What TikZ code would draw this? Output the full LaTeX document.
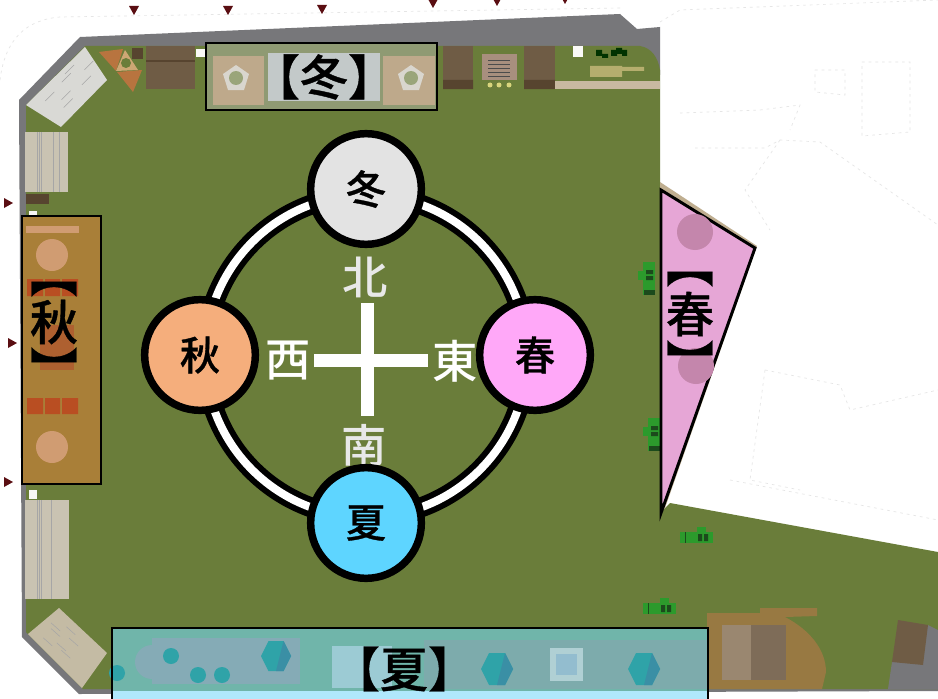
\documentclass[tikz,border=0pt]{standalone}
\usepackage{fontspec}
\usetikzlibrary{calc}
\newfontfamily\cjk{Noto Sans CJK JP Medium}
\newfontfamily\cjkm[FakeBold=0.8]{Noto Sans CJK JP Medium}
\definecolor{lawn}{HTML}{6A7D3A}
\definecolor{wall}{HTML}{77777A}
\definecolor{plank}{HTML}{C9C3B2}
\definecolor{plankgrey}{HTML}{D9D9D5}
\definecolor{plankbrown}{HTML}{C4BBA4}
\definecolor{markred}{HTML}{5A0E12}
\definecolor{bench}{HTML}{6F5C45}
\definecolor{mach}{HTML}{2C9A2C}
\definecolor{machdark}{HTML}{1C4A1C}
\definecolor{tealhex}{HTML}{2FA3A8}
\definecolor{tealdark}{HTML}{3A8FA5}
\definecolor{tealpanel}{HTML}{70B5AA}
\definecolor{tealinner}{HTML}{85ABB6}
\definecolor{tealright}{HTML}{7DABAC}
\definecolor{tealpale}{HTML}{9CCBD4}
\definecolor{tealsqout}{HTML}{B0D0D4}
\definecolor{tealsqin}{HTML}{93BDCF}
\definecolor{skystrip}{HTML}{B0E8FC}
\definecolor{autpanel}{HTML}{A97F38}
\definecolor{autred}{HTML}{B94E22}
\definecolor{autblock}{HTML}{AE6030}
\definecolor{autpale}{HTML}{D09C72}
\definecolor{sprpanel}{HTML}{E6A6D6}
\definecolor{sprround}{HTML}{C486AC}
\definecolor{winpanel}{HTML}{8F9A73}
\definecolor{wintan}{HTML}{BEA98B}
\definecolor{wincentre}{HTML}{C3C9C9}
\definecolor{winpent}{HTML}{D9D6CE}
\definecolor{wingreen}{HTML}{9AA57A}
\definecolor{tricol}{HTML}{B8743F}
\definecolor{tritan}{HTML}{CDA774}
\definecolor{deckcol}{HTML}{987942}
\definecolor{gridA}{HTML}{9A8770}
\definecolor{gridB}{HTML}{7E6C58}
\definecolor{khakicol}{HTML}{B5AE6E}
\definecolor{darkbox}{HTML}{57442F}
\definecolor{noticecol}{HTML}{A88F7E}
\definecolor{edgetan}{HTML}{BFAE90}
\newcommand{\tractorH}[2]{%
  \begin{scope}[shift={(#1,#2)}]
    \fill[mach] (0,0) rectangle (33,11);
    \fill[mach] (17,-5) rectangle (26,0);
    \fill[machdark] (18,2) rectangle (22,9) (24,2) rectangle (28,9);
    \draw[machdark,line width=.6pt] (5,0) -- (5,11);
  \end{scope}}
\newcommand{\tractorV}[2]{%
  \begin{scope}[shift={(#1,#2)}]
    \fill[mach] (0,0) rectangle (12,33);
    \fill[mach] (-5,9) rectangle (0,18);
    \fill[machdark] (3,8) rectangle (10,12) (3,14) rectangle (10,18);
    \fill[machdark] (1,28) rectangle (12,33);
  \end{scope}}
\tikzset{
  x=0.75pt,y=-0.75pt,
  seasoncircle/.style={circle,draw=black,line width=5.6pt,minimum size=83pt,inner sep=0pt,font=\cjkm\fontsize{30}{30}\selectfont},
  compass/.style={inner sep=0pt,text=white,font=\cjk\fontsize{34}{34}\selectfont},
  banner/.style={inner sep=0pt,text=black,font=\cjkm\fontsize{36}{36}\selectfont},
  panelline/.style={draw=black,line width=2.2pt},
  faint/.style={draw=black!10,line width=.5pt,dash pattern=on 2pt off 3pt},
  grainline/.style={draw=black!35,line width=.4pt},
}
\begin{document}
\begin{tikzpicture}
\useasboundingbox (0,0) rectangle (938,699);
\fill[white] (0,0) rectangle (938,699);
% faint site outline
\draw[faint] (0,80) .. controls (5,40) and (25,20) .. (60,17) -- (620,8);
\draw[faint] (660,22) -- (680,10) -- (938,0);
\draw[faint] (815,70) -- (845,70) -- (845,95) -- (815,92) -- cycle;
\draw[faint] (862,62) -- (910,62) -- (910,132) -- (862,136) -- cycle;
\draw[faint] (680,113) -- (760,110) -- (800,105) -- (790,130);
\draw[faint] (695,148) -- (765,148) -- (780,140) -- (820,142) -- (938,225);
\draw[faint] (780,140) -- (745,190) -- (770,230);
\draw[faint] (765,370) -- (750,480) -- (800,490);
\draw[faint] (765,370) -- (840,385) -- (850,410) -- (938,390);
\draw[faint] (730,480) -- (938,520);
% walls and lawn
\fill[wall] (80,37) -- (620,14) -- (637,29) -- (660,27) -- (660,75) -- (640,60) -- (85,60) -- (26,110) -- (26,630) -- (83,688) -- (938,688) -- (938,691) -- (79,694) -- (22,637) -- (19,100) -- cycle;
\fill[lawn] (85,46) -- (640,46) .. controls (652,48) and (658,58) .. (660,70) -- (660,513) -- (670,503) -- (938,552) -- (938,689) -- (83,689) -- (26,632) -- (26,105) -- cycle;
\fill[edgetan] (660,182) -- (757,246) -- (665,508) -- (660,513) -- cycle;
% north side furnishings
\fill[plankgrey] (85,47) -- (107,80) -- (61,127) -- (26,105) -- cycle;
\foreach \a/\b in {.2/.3,.35/.6,.5/.25,.65/.7,.8/.45,.3/.8,.6/.15}{
  \draw[grainline] ($(26,105)!\a!(85,47)+(25*\b,25*\b)$) -- ++(9,-9);}
\fill[tricol] (99,52) -- (123,49) -- (116,71) -- cycle;
\fill[tricol] (117,72) -- (142,70) -- (133,92) -- cycle;
\fill[tritan] (125,50) -- (138,70) -- (116,71) -- cycle;
\fill[lawn] (126,63) circle (5);
\fill[darkbox] (132,48) rectangle (143,59);
\fill[bench] (146,46) rectangle (195,89);
\draw[darkbox,line width=.8pt] (146,61) -- (195,61);
\fill[white!90!plank] (196,49) rectangle (205,57);
\fill[bench] (443,46) rectangle (473,89);
\fill[bench] (524,46) rectangle (555,89);
\fill[darkbox] (443,80) rectangle (473,89) (524,80) rectangle (555,89);
\fill[noticecol] (482,54) rectangle (517,80);
\foreach \y in {60,64,68,72,76}{\draw[black!70,line width=.5pt] (488,\y) -- (510,\y);}
\fill[plank!70!yellow] (490,85) circle (2.5) (499,85) circle (2.5) (509,85) circle (2.5);
\fill[white!90!plank] (573,46) rectangle (583,57);
\fill[black!80!green] (596,50) rectangle (602,56) (602,54) rectangle (608,58) (611,50) rectangle (617,56) (616,48) rectangle (622,54) (622,50) rectangle (627,56);
\fill[khakicol] (590,66) rectangle (622,77) (622,67) rectangle (644,71);
\fill[plank!85!brown] (555,81) rectangle (660,89);
% west side furnishings
\fill[plank] (25,132) rectangle (68,192);
\foreach \x in {37,39,41,53,59}{\draw[black!35,line width=.5pt] (\x,132) -- (\x,192);}
\fill[darkbox] (26,194) rectangle (49,204);
\fill[white!85!plank] (29,211) rectangle (37,216);
\fill[plank] (25,500) rectangle (69,599);
\foreach \x in {37,39,41,51}{\draw[black!35,line width=.5pt] (\x,500) -- (\x,599);}
\fill[white!85!plank] (29,490) rectangle (37,499);
\fill[plankbrown] (59,608) -- (107,653) -- (82,688) -- (28,634) -- cycle;
\foreach \a/\b in {.2/.3,.35/.6,.5/.25,.65/.7,.8/.45,.3/.8,.6/.15}{
  \draw[grainline] ($(28,634)!\a!(59,608)+(30*\b,30*\b)$) -- ++(9,8);}
% south-east furnishings
\fill[deckcol] (707,613) -- (760,613) -- (760,608) -- (817,608) -- (817,616) -- (785,617) .. controls (810,630) and (826,650) .. (826,672) -- (822,689) -- (707,689) -- cycle;
\fill[gridA] (722,625) rectangle (751,680);
\fill[gridB] (751,625) rectangle (786,680);
\fill[wall] (928,625) -- (938,630) -- (938,689) -- (888,689) -- (892,662) -- cycle;
\fill[bench] (898,620) -- (928,625) -- (923,665) -- (892,662) -- cycle;
\tractorV{643}{262}
\tractorV{648}{418}
\tractorH{680}{532}
\tractorH{643}{603}
% markers
\foreach \x/\y in {134/6,228/6,322/5,433/-1,497/-3,565/-5}{\fill[markred] (\x-5,\y) -- (\x+5,\y) -- (\x,\y+9) -- cycle;}
\foreach \x/\y in {4/198,8/338,4/477}{\fill[markred] (\x,\y) -- (\x,\y+10) -- (\x+9,\y+5) -- cycle;}
% autumn panel
\draw[panelline,fill=autpanel] (22,216) rectangle (101,484);
\fill[autpale] (26,226) rectangle (79,233);
\fill[autpale] (52,255) circle (16);
\fill[autpale] (52,447) circle (16);
\fill[autred] (27,279) rectangle (43,296) (45,279) rectangle (60,296) (62,279) rectangle (78,296);
\fill[autred] (27,398) rectangle (43,414) (45,398) rectangle (60,414) (62,398) rectangle (78,414);
\fill[autblock] (40,325) rectangle (74,370);
\node[banner,rotate=-90] (atopb) at (54,274) {【};
\node[banner] (atop) at (54,322) {秋};
\node[banner,rotate=-90] (abot) at (54,370) {】};
% spring panel
\draw[panelline,fill=sprpanel] (661,190) -- (755,248) -- (661,513) -- cycle;
\fill[sprround] (695,232) circle (18) (696,366) circle (18);
\node[banner,rotate=-90] (sprb) at (690,264) {【};
\node[banner] (spr) at (690,314) {春};
\node[banner,rotate=-90] (spre) at (690,363) {】};
% winter panel
\draw[panelline,fill=winpanel] (206,43) rectangle (437,110);
\fill[wintan] (213,56) rectangle (264,105);
\fill[wintan] (383,56) rectangle (435,105);
\fill[wincentre] (268,53) rectangle (380,101);
\foreach \c in {236,411}{
  \fill[winpent] (\c,65) -- (\c+13,74) -- (\c+8,90) -- (\c-8,90) -- (\c-13,74) -- cycle;
  \fill[wingreen] (\c,78) circle (7);}
\node[banner] (win) at (324,77) {【冬】};
% summer panel
\fill[tealpanel] (112,628) rectangle (708,692);
\fill[tealinner] (152,638) rectangle (300,684);
\fill[tealright] (424,640) rectangle (708,689);
\fill[tealinner] (152,662) circle (17);
\fill[tealpale] (332,646) rectangle (392,688);
\fill[tealsqout] (550,648) rectangle (583,681);
\fill[tealsqin] (556,654) rectangle (577,675);
\fill[skystrip] (112,691) rectangle (708,699);
\foreach \x/\y in {171/656,198/675,222/675,117/673}{\fill[tealhex] (\x,\y) circle (8);}
\foreach \x/\y/\r in {276/656/15,497/669/16,644/669/16}{
  \fill[tealhex] (\x-\r,\y) -- (\x-\r/2,\y-\r) -- (\x+\r/2,\y-\r) -- (\x+\r,\y) -- (\x+\r/2,\y+\r) -- (\x-\r/2,\y+\r) -- cycle;
  \fill[tealdark] (\x,\y+\r) -- (\x+\r/2,\y+\r) -- (\x+\r,\y) -- (\x+\r/2,\y-\r) -- cycle;}
\draw[black,line width=2.2pt] (112,699) -- (112,628) -- (708,628) -- (708,699);
\node[banner] (sum) at (404,669) {【夏】};
% ring and compass
\draw[black,line width=15pt] (366,356) circle (161);
\draw[white,line width=6pt] (366,356) circle (161);
\fill[white] (314,354) rectangle (428,367);
\fill[white] (361,303) rectangle (374,416);
\node[compass,text=black!9] (north) at (365,277) {北};
\node[compass,text=black!9] (south) at (364,445) {南};
\node[compass] (west) at (288,361) {西};
\node[compass] (east) at (455,361) {東};
\node[seasoncircle,fill={black!11}] (cw) at (366,189) {冬};
\node[seasoncircle,fill={rgb,255:red,245;green,174;blue,124}] (ca) at (200,355) {秋};
\node[seasoncircle,fill={rgb,255:red,255;green,168;blue,248}] (cs) at (535,355) {春};
\node[seasoncircle,fill={rgb,255:red,94;green,213;blue,255}] (cu) at (366,523) {夏};
\end{tikzpicture}
\end{document}
